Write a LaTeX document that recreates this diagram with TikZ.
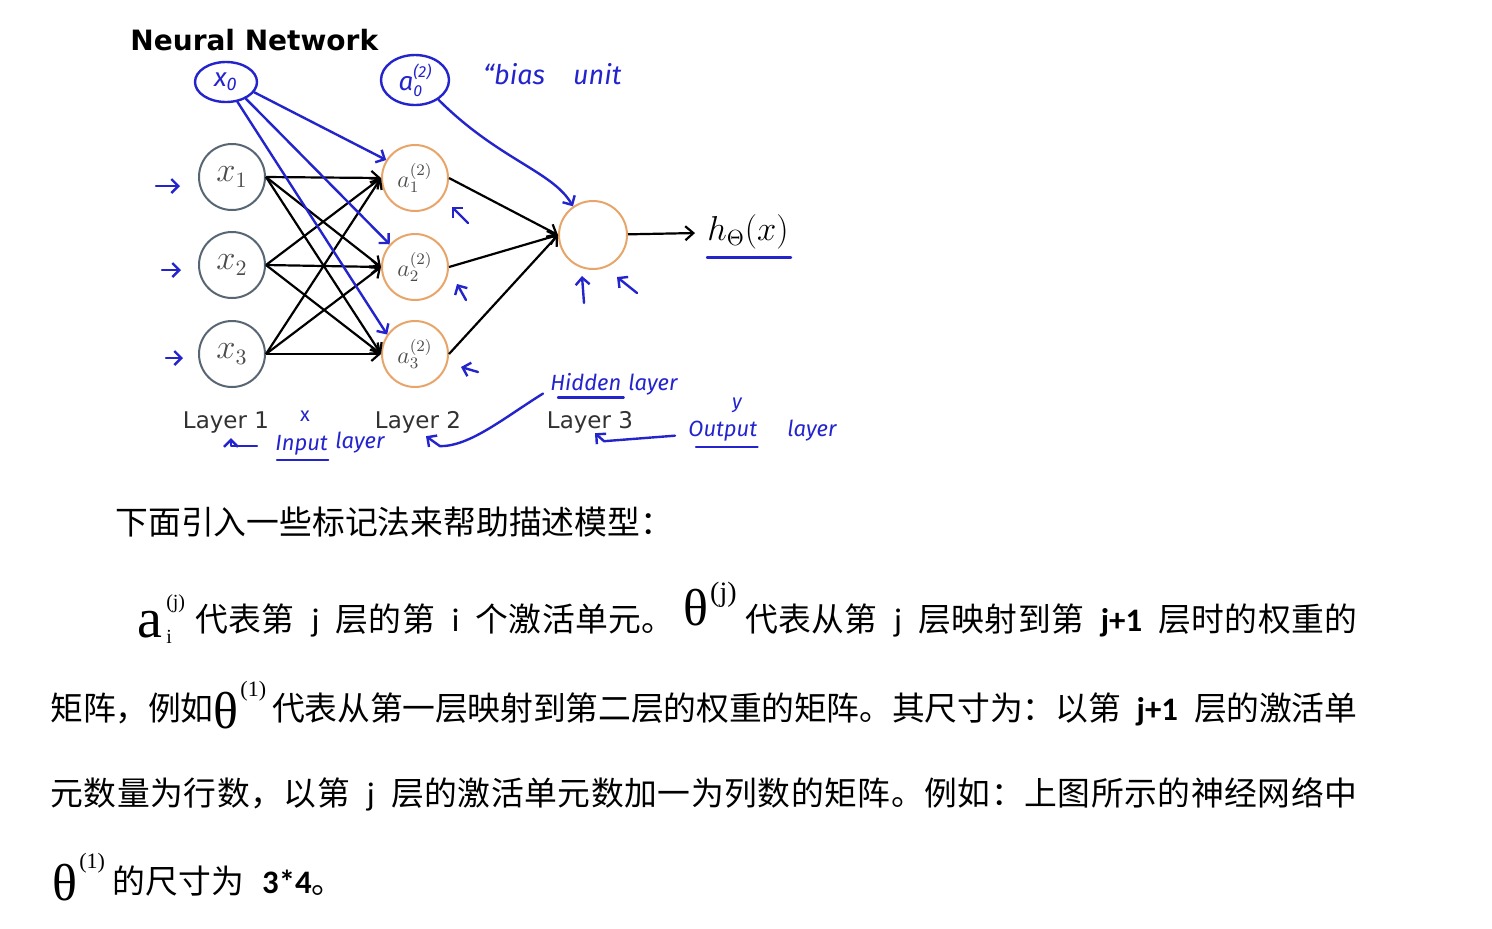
\documentclass[tikz,border=0pt]{standalone}
\usepackage{fontspec}
\usetikzlibrary{arrows.meta,calc,shapes.geometric}

\newfontfamily\cjk{Noto Sans CJK SC}
\newfontfamily\lat{Carlito}
\newfontfamily\tms{Liberation Serif}
\newfontfamily\dvs{DejaVu Sans}
\newfontfamily\hand{Fira Sans}

\definecolor{inkblue}{RGB}{36,36,205}
\definecolor{inring}{RGB}{88,102,116}
\definecolor{hidring}{RGB}{232,165,105}
\definecolor{laytext}{RGB}{50,50,50}
\definecolor{nodetext}{RGB}{75,75,75}

% spread the chinese characters so a line can be set to a given width
\ExplSyntaxOn
\NewDocumentCommand\spr{m}{\tl_map_inline:nn{#1}{##1\hskip 0pt plus 1pt minus 0.3pt}}
\ExplSyntaxOff
\newcommand\lword[1]{\hspace{8pt plus 1pt}{\lat #1}\hspace{8pt plus 1pt}}
\newcommand\lwordb[1]{\hspace{8pt plus 1pt}{\lat\bfseries #1}\hspace{8pt plus 1pt}}
\newcommand\thsup[4]{\raisebox{#2}{\tms\fontsize{26}{26}\selectfont θ}\hspace{1pt}\raisebox{#3}{\tms\fontsize{#4}{#4}\selectfont(#1)}}
\newcommand\asup{\raisebox{-3pt}{\tms\fontsize{28}{28}\selectfont a}\kern2pt\rlap{\raisebox{-6pt}{\tms\fontsize{10}{10}\selectfont i}}\raisebox{11.5pt}{\tms\fontsize{10}{10}\selectfont(j)}}

\begin{document}
\begin{tikzpicture}[x=0.5pt, y=-0.5pt,
    inunit/.style={circle, draw=inring, line width=1pt, minimum size=33pt, inner sep=0pt, text=nodetext, font=\fontsize{16}{16}\selectfont},
    hidunit/.style={inunit, draw=hidring, font=\fontsize{12}{12}\selectfont},
    wire/.style={line width=1.1pt, -{Straight Barb[length=4pt,width=7pt]}},
    ink/.style={draw=inkblue, line width=1.2pt, line cap=round, line join=round},
    inkarrow/.style={ink, -{Straight Barb[length=3.5pt,width=7pt]}},
    bubble/.style={ellipse, ink, inner sep=0pt, text=inkblue},
    note/.style={text=inkblue, inner sep=0pt, anchor=base west, font=\hand\itshape\fontsize{11}{11}\selectfont},
    laylabel/.style={text=laytext, inner sep=0pt, anchor=base, font=\dvs\fontsize{11.5}{12}\selectfont},
    cjkline/.style={inner sep=0pt, anchor=base west, font=\cjk\fontsize{16.4}{17}\selectfont},
  ]
  \fill[white] (0,0) rectangle (1492,928);
  \useasboundingbox (0,0) rectangle (1492,928);

  % network
  \node[inner sep=0pt, anchor=base west, font=\dvs\bfseries\fontsize{14}{14}\selectfont] (title) at (130,50) {Neural Network};
  \node[inunit] (x1) at (232,177) {$x_1$};
  \node[inunit] (x2) at (232,265) {$x_2$};
  \node[inunit] (x3) at (232,354) {$x_3$};
  \node[hidunit] (a1) at (415,178) {$a_1^{(2)}$};
  \node[hidunit] (a2) at (415,267) {$a_2^{(2)}$};
  \node[hidunit] (a3) at (415,354) {$a_3^{(2)}$};
  \node[hidunit, minimum size=34pt] (out) at (593,235) {};
  \node[anchor=west, inner sep=6pt, font=\fontsize{16}{16}\selectfont] (h) at (695,232) {$h_\Theta(x)$};

  \foreach \i in {1,2,3}
    \foreach \j in {1,2,3}
      \draw[wire] (x\i.east) -- (a\j.west);
  \foreach \j in {1,2,3}
    \draw[wire] (a\j.east) -- (out.west);
  \draw[wire] (out) -- (h);

  \node[laylabel] (lay1) at (226,428) {Layer 1};
  \node[laylabel] (lay2) at (418,428) {Layer 2};
  \node[laylabel] (lay3) at (590,428) {Layer 3};

  % hand notes
  \node[bubble, minimum width=31pt, minimum height=20pt] (x0) at (226,82) {\hand\itshape\fontsize{13}{13}\selectfont x\textsubscript{0}};
  \node[bubble, minimum width=34pt, minimum height=25pt] (a0) at (415,80) {\hand\itshape\fontsize{13}{13}\selectfont a\raisebox{-3pt}{\shortstack[l]{\fontsize{8}{8}\selectfont(2)\\\fontsize{8}{8}\selectfont 0}}};
  \node[note, font=\hand\itshape\fontsize{13.5}{14}\selectfont] (bias) at (483,84) {“bias\hspace{14pt}unit};

  \draw[inkarrow] (x0.-20) -- (a1.148);
  \draw[inkarrow] (x0.-40) -- (a2.138);
  \draw[inkarrow] (x0.-60) -- (a3.145);
  \draw[inkarrow] (a0.-40) .. controls +(60,60) and +(-20,-35) .. (out.125);
  \draw[ink] ($(h.south west)+(12,-4)$) -- ($(h.south east)+(-10,-4)$);

  \draw[inkarrow] ($(x1.west)+(-42,9)$) -- ++(24,0);
  \draw[inkarrow] ($(x2.west)+(-36,5)$) -- ++(19,0);
  \draw[inkarrow] ($(x3.west)+(-32,4)$) -- ++(17,0);
  \draw[inkarrow] ($(a1)+(53,45)$) -- ++(-16,-16);
  \draw[inkarrow] ($(a2)+(51,33)$) -- ++(-9,-16);
  \draw[inkarrow] ($(a3)+(63,18)$) -- ++(-17,-5);
  \draw[inkarrow] ($(out)+(-9,68)$) -- ++(-2,-27);
  \draw[inkarrow] ($(out)+(44,58)$) -- ++(-20,-16);

  \node[note, anchor=center, font=\hand\fontsize{10}{10}\selectfont] (xmk) at (305,416) {x};
  \node[note] (inp) at (275,450) {Input};
  \node[note] (inlay) at (335,448) {layer};
  \draw[ink] ($(inp.south west)+(2,5)$) -- ($(inp.south east)+(0,5)$);
  \draw[inkarrow] ($(inp.west)+(-18,1)$) -| ($(lay1.south)+(5,5)$);

  \node[note] (hid) at (550,390) {Hidden};
  \node[note] (hidlay) at (628,390) {layer};
  \draw[ink] ($(hid.south west)+(8,7)$) -- ($(hid.south east)+(2,7)$);
  \draw[inkarrow] ($(hid.west)+(-7,12)$) .. controls +(-40,25) and +(30,0) .. ($(lay2.south)+(22,13)$) -- ($(lay2.south)+(8,3)$);

  \node[note, anchor=center, font=\hand\itshape\fontsize{10}{10}\selectfont] (ymk) at (737,405) {y};
  \node[note] (outw) at (688,436) {Output};
  \node[note] (outlay) at (787,436) {layer};
  \draw[ink] ($(outw.south west)+(8,6)$) -- ($(outw.south east)+(0,6)$);
  \draw[inkarrow] ($(outw.west)+(-13,5)$) -- ($(lay3.south)+(14,8)$) -- ($(lay3.south)+(5,0)$);

  % text below
  \node[cjkline] (p1) at (115,534) {下面引入一些标记法来帮助描述模型：};
  \node[cjkline] (p2) at (137,631) {\hbox to 610pt{\asup\hspace{5pt plus 1pt}\spr{代表第}\lword{j}\spr{层的第}\lword{i}\spr{个激活单元。}\hspace{4pt plus 1pt}\thsup{j}{3pt}{15pt}{14}\hspace{4pt plus 1pt}\spr{代表从第}\lword{j}\spr{层映射到第}\lwordb{j+1}\spr{层时的权重的}\unskip}};
  \node[cjkline] (p3) at (50,720) {\hbox to 653.5pt{\spr{矩阵，例如}\thsup{1}{-4pt}{12pt}{11}\hspace{3pt plus 1pt}\spr{代表从第一层映射到第二层的权重的矩阵。其尺寸为：以第}\lwordb{j+1}\spr{层的激活单}\unskip}};
  \node[cjkline] (p4) at (50,805) {\hbox to 653.5pt{\spr{元数量为行数，以第}\lword{j}\spr{层的激活单元数加一为列数的矩阵。例如：上图所示的神经网络中}\unskip}};
  \node[cjkline] (p5) at (52,893) {\thsup{1}{-3.5pt}{12.5pt}{11}\hspace{4pt}的尺寸为\hspace{9pt}{\lat\bfseries 3*4}。};
\end{tikzpicture}
\end{document}
